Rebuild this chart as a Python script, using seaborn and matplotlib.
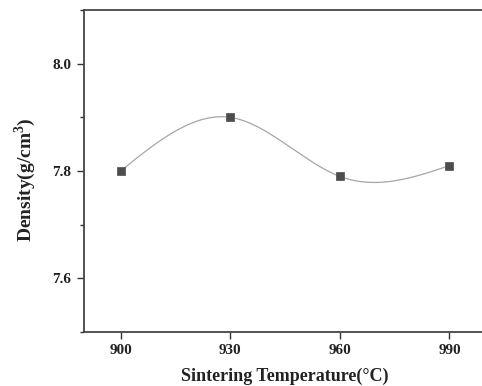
import numpy as np
import pandas as pd
import matplotlib
matplotlib.use("Agg")
import matplotlib.pyplot as plt
import seaborn as sns
from matplotlib.ticker import MultipleLocator

temperature = [900, 930, 960, 990]
density = [7.80, 7.90, 7.79, 7.81]
x_ticks = [900, 930, 960, 990]
y_ticks = [7.6, 7.8, 8.0]

sns.set_theme(style="white")
plt.rcParams['font.family'] = ['Liberation Serif', 'DejaVu Serif']
plt.rcParams['mathtext.fontset'] = 'custom'
plt.rcParams['mathtext.rm'] = 'Liberation Serif'
plt.rcParams['mathtext.bf'] = 'Liberation Serif:bold'


def natural_spline(x, y, n=300):
    x = np.asarray(x, float)
    y = np.asarray(y, float)
    k = len(x)
    h = np.diff(x)
    A = np.zeros((k, k))
    b = np.zeros(k)
    A[0, 0] = 1
    A[-1, -1] = 1
    for i in range(1, k - 1):
        A[i, i - 1] = h[i - 1]
        A[i, i] = 2 * (h[i - 1] + h[i])
        A[i, i + 1] = h[i]
        b[i] = 6 * ((y[i + 1] - y[i]) / h[i] - (y[i] - y[i - 1]) / h[i - 1])
    M = np.linalg.solve(A, b)
    xs = np.linspace(x[0], x[-1], n)
    ys = np.empty_like(xs)
    for j, t in enumerate(xs):
        i = min(np.searchsorted(x, t, side='right') - 1, k - 2)
        a = x[i + 1] - t
        c = t - x[i]
        ys[j] = (M[i] * a**3 + M[i + 1] * c**3) / (6 * h[i]) \
            + (y[i] / h[i] - M[i] * h[i] / 6) * a \
            + (y[i + 1] / h[i] - M[i + 1] * h[i] / 6) * c
    return xs, ys


df = pd.DataFrame({"T": temperature, "D": density})
xs, ys = natural_spline(temperature, density)
curve = pd.DataFrame({"T": xs, "D": ys})

fig = plt.figure(figsize=(4.82, 3.86), dpi=100)
ax = fig.add_axes([84 / 482, 54 / 386, 402 / 482, 322 / 386])

sns.lineplot(data=curve, x="T", y="D", ax=ax, color="#a6a6a6", linewidth=0.9)
sns.scatterplot(data=df, x="T", y="D", ax=ax, marker="s", s=30,
                color="#4d4d4f", edgecolor="#4d4d4f", linewidth=0.5, zorder=3)

ax.set_xlim(890, 1000)
ax.set_ylim(7.5, 8.1)
ax.set_xticks(x_ticks)
ax.set_yticks(y_ticks)
ax.set_xticklabels([str(v) for v in x_ticks])
ax.set_yticklabels([f"{v:.1f}" for v in y_ticks])
ax.yaxis.set_minor_locator(MultipleLocator(0.1))

for lab in ax.get_xticklabels() + ax.get_yticklabels():
    lab.set_fontweight("bold")
    lab.set_fontsize(11)
    lab.set_color("#222222")

ax.tick_params(axis="both", which="major", direction="out", length=5, width=1.0,
               color="#333333", bottom=True, left=True, pad=4)
ax.tick_params(axis="y", which="minor", direction="out", length=3, width=1.0,
               color="#333333", left=True)

for s in ["left", "bottom", "top", "right"]:
    ax.spines[s].set_color("#444444")
    ax.spines[s].set_linewidth(1.3)

ax.set_xlabel("Sintering Temperature(°C)", fontsize=13, fontweight="bold",
              color="#222222")
ax.set_ylabel(r"Density(g/cm$^\mathbf{3}$)", fontsize=14, fontweight="bold",
              color="#222222")
# position label centres (axes coords) to match reference
ax.xaxis.set_label_coords((285 - 84) / 402, (332 - 376) / 322)
ax.yaxis.set_label_coords((25 - 84) / 402, (332 - 180) / 322)
ax.xaxis.label.set_va("center")
ax.yaxis.label.set_va("center")

fig.savefig("out.png", dpi=100)
